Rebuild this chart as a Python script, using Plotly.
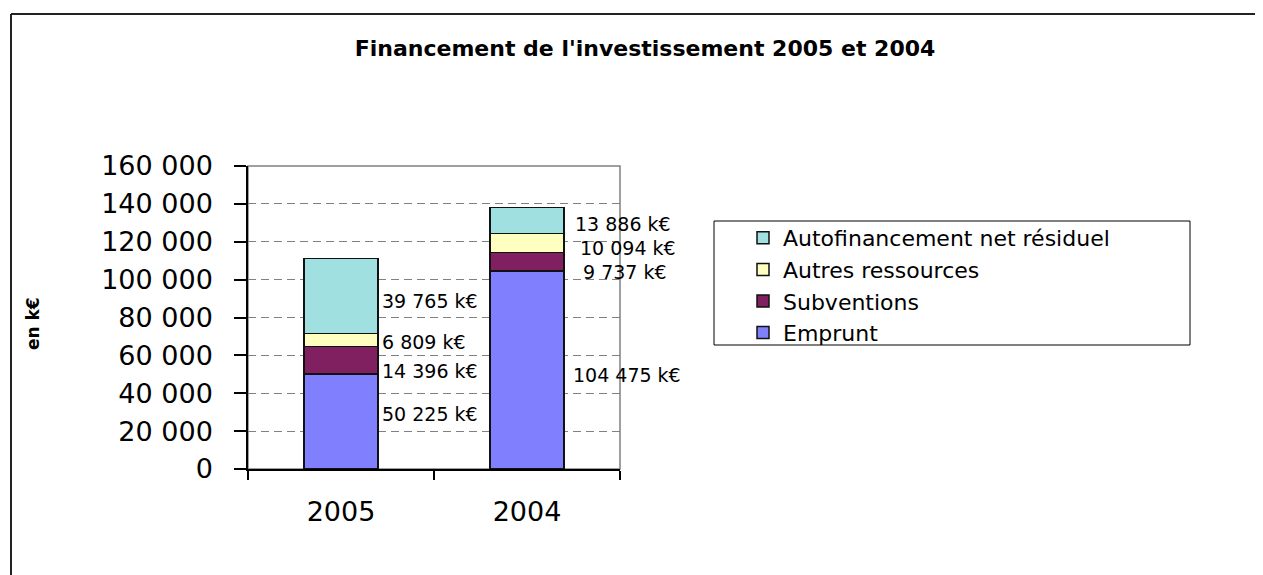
import plotly.graph_objects as go

categories = ["2005", "2004"]
series_names = ["Emprunt", "Subventions", "Autres ressources", "Autofinancement net résiduel"]
emprunt = [50225, 104475]
subventions = [14396, 9737]
autres = [6809, 10094]
autofinancement = [39765, 13886]
colors = ["#8080FF", "#802060", "#FFFFC0", "#A0E0E0"]
y_ticks = [0, 20000, 40000, 60000, 80000, 100000, 120000, 140000, 160000]

W, H = 1263, 575
OFF = 8  # page body margin
L, R, T, B = 248, 620, 166, 469  # plot area in screen px

def px(x):
    return (x - L) / (R - L)

def py(y):
    return (B - y) / (B - T)

FONT = "DejaVu Sans"
series = [emprunt, subventions, autres, autofinancement]

fig = go.Figure()
for i, (name, vals, col) in enumerate(zip(series_names, series, colors)):
    fig.add_trace(go.Bar(
        x=categories, y=vals, name=name, width=0.4,
        marker=dict(color=col, line=dict(color="#111111", width=1.5)),
        legendrank=len(series_names) - i,
    ))

# data labels (label offsets in px, as placed in the reference)
xshifts = [[39, 44], [39, 54], [39, 51], [39, 46]]
yshifts = [[7, -5], [-11, -10], [-2, -5], [-5, -4]]
for ci, cat in enumerate(categories):
    base = 0
    for si, vals in enumerate(series):
        v = vals[ci]
        mid = base + v / 2
        base += v
        fig.add_annotation(
            x=ci, y=mid, xref="x", yref="y",
            text=f"{v:,}".replace(",", " ") + " k€",
            showarrow=False, xanchor="left", yanchor="middle",
            xshift=xshifts[si][ci], yshift=yshifts[si][ci],
            font=dict(family=FONT, size=19, color="#000000"),
        )

# y axis title
fig.add_annotation(
    x=px(33), y=py(323), xref="paper", yref="paper",
    xanchor="center", yanchor="middle",
    text="<b>en k€</b>", textangle=-90, showarrow=False,
    font=dict(family=FONT, size=17, color="#000000"),
)

shapes = [
    dict(type="rect", xref="paper", yref="paper", x0=0, x1=1, y0=0, y1=1,
         line=dict(color="#808080", width=1.5), layer="below"),
    dict(type="line", xref="paper", yref="paper", x0=px(11), x1=px(1270), y0=py(14), y1=py(14),
         line=dict(color="#222222", width=2)),
    dict(type="line", xref="paper", yref="paper", x0=px(11), x1=px(11), y0=py(14), y1=py(590),
         line=dict(color="#222222", width=2)),
    dict(type="rect", xref="paper", yref="paper", x0=px(714), x1=px(1190), y0=py(221), y1=py(345),
         line=dict(color="#000000", width=1)),
]

fig.update_layout(
    width=W, height=H,
    margin=dict(l=L - OFF, r=W - (R - OFF), t=T - OFF, b=H - (B - OFF), pad=0),
    paper_bgcolor="white", plot_bgcolor="white",
    barmode="stack", separators=", ",
    title=dict(text="<b>Financement de l'investissement 2005 et 2004</b>",
               x=(645 - OFF) / W, xref="container", xanchor="center",
               y=1 - (48 - OFF) / H, yref="container", yanchor="middle",
               font=dict(family=FONT, size=22, color="#000000")),
    font=dict(family=FONT, color="#000000"),
    showlegend=True,
    legend=dict(x=px(743), y=py(217), xanchor="left", yanchor="top",
                traceorder="normal",
                bgcolor="rgba(0,0,0,0)", borderwidth=0,
                font=dict(family=FONT, size=22, color="#000000")),
    shapes=shapes,
    bargap=0.6,
)

fig.update_yaxes(
    range=[0, 160000], tickvals=y_ticks, tickformat=",d",
    showgrid=True, gridcolor="#808080", griddash="8px,5px", gridwidth=1,
    showline=True, linecolor="#000000", linewidth=1.5,
    ticks="outside", ticklen=12, tickcolor="#000000", tickwidth=1.5,
    tickfont=dict(family=FONT, size=27, color="#000000"),
    ticklabelstandoff=16, zeroline=False, fixedrange=True,
)
fig.update_xaxes(
    type="category", range=[-0.5, 1.5], tickson="boundaries",
    showline=True, linecolor="#000000", linewidth=1.5,
    ticks="outside", ticklen=9, tickcolor="#000000", tickwidth=1.5,
    tickfont=dict(family=FONT, size=27, color="#000000"),
    ticklabelstandoff=18, showgrid=False, fixedrange=True,
)

fig.write_html("out.html")
